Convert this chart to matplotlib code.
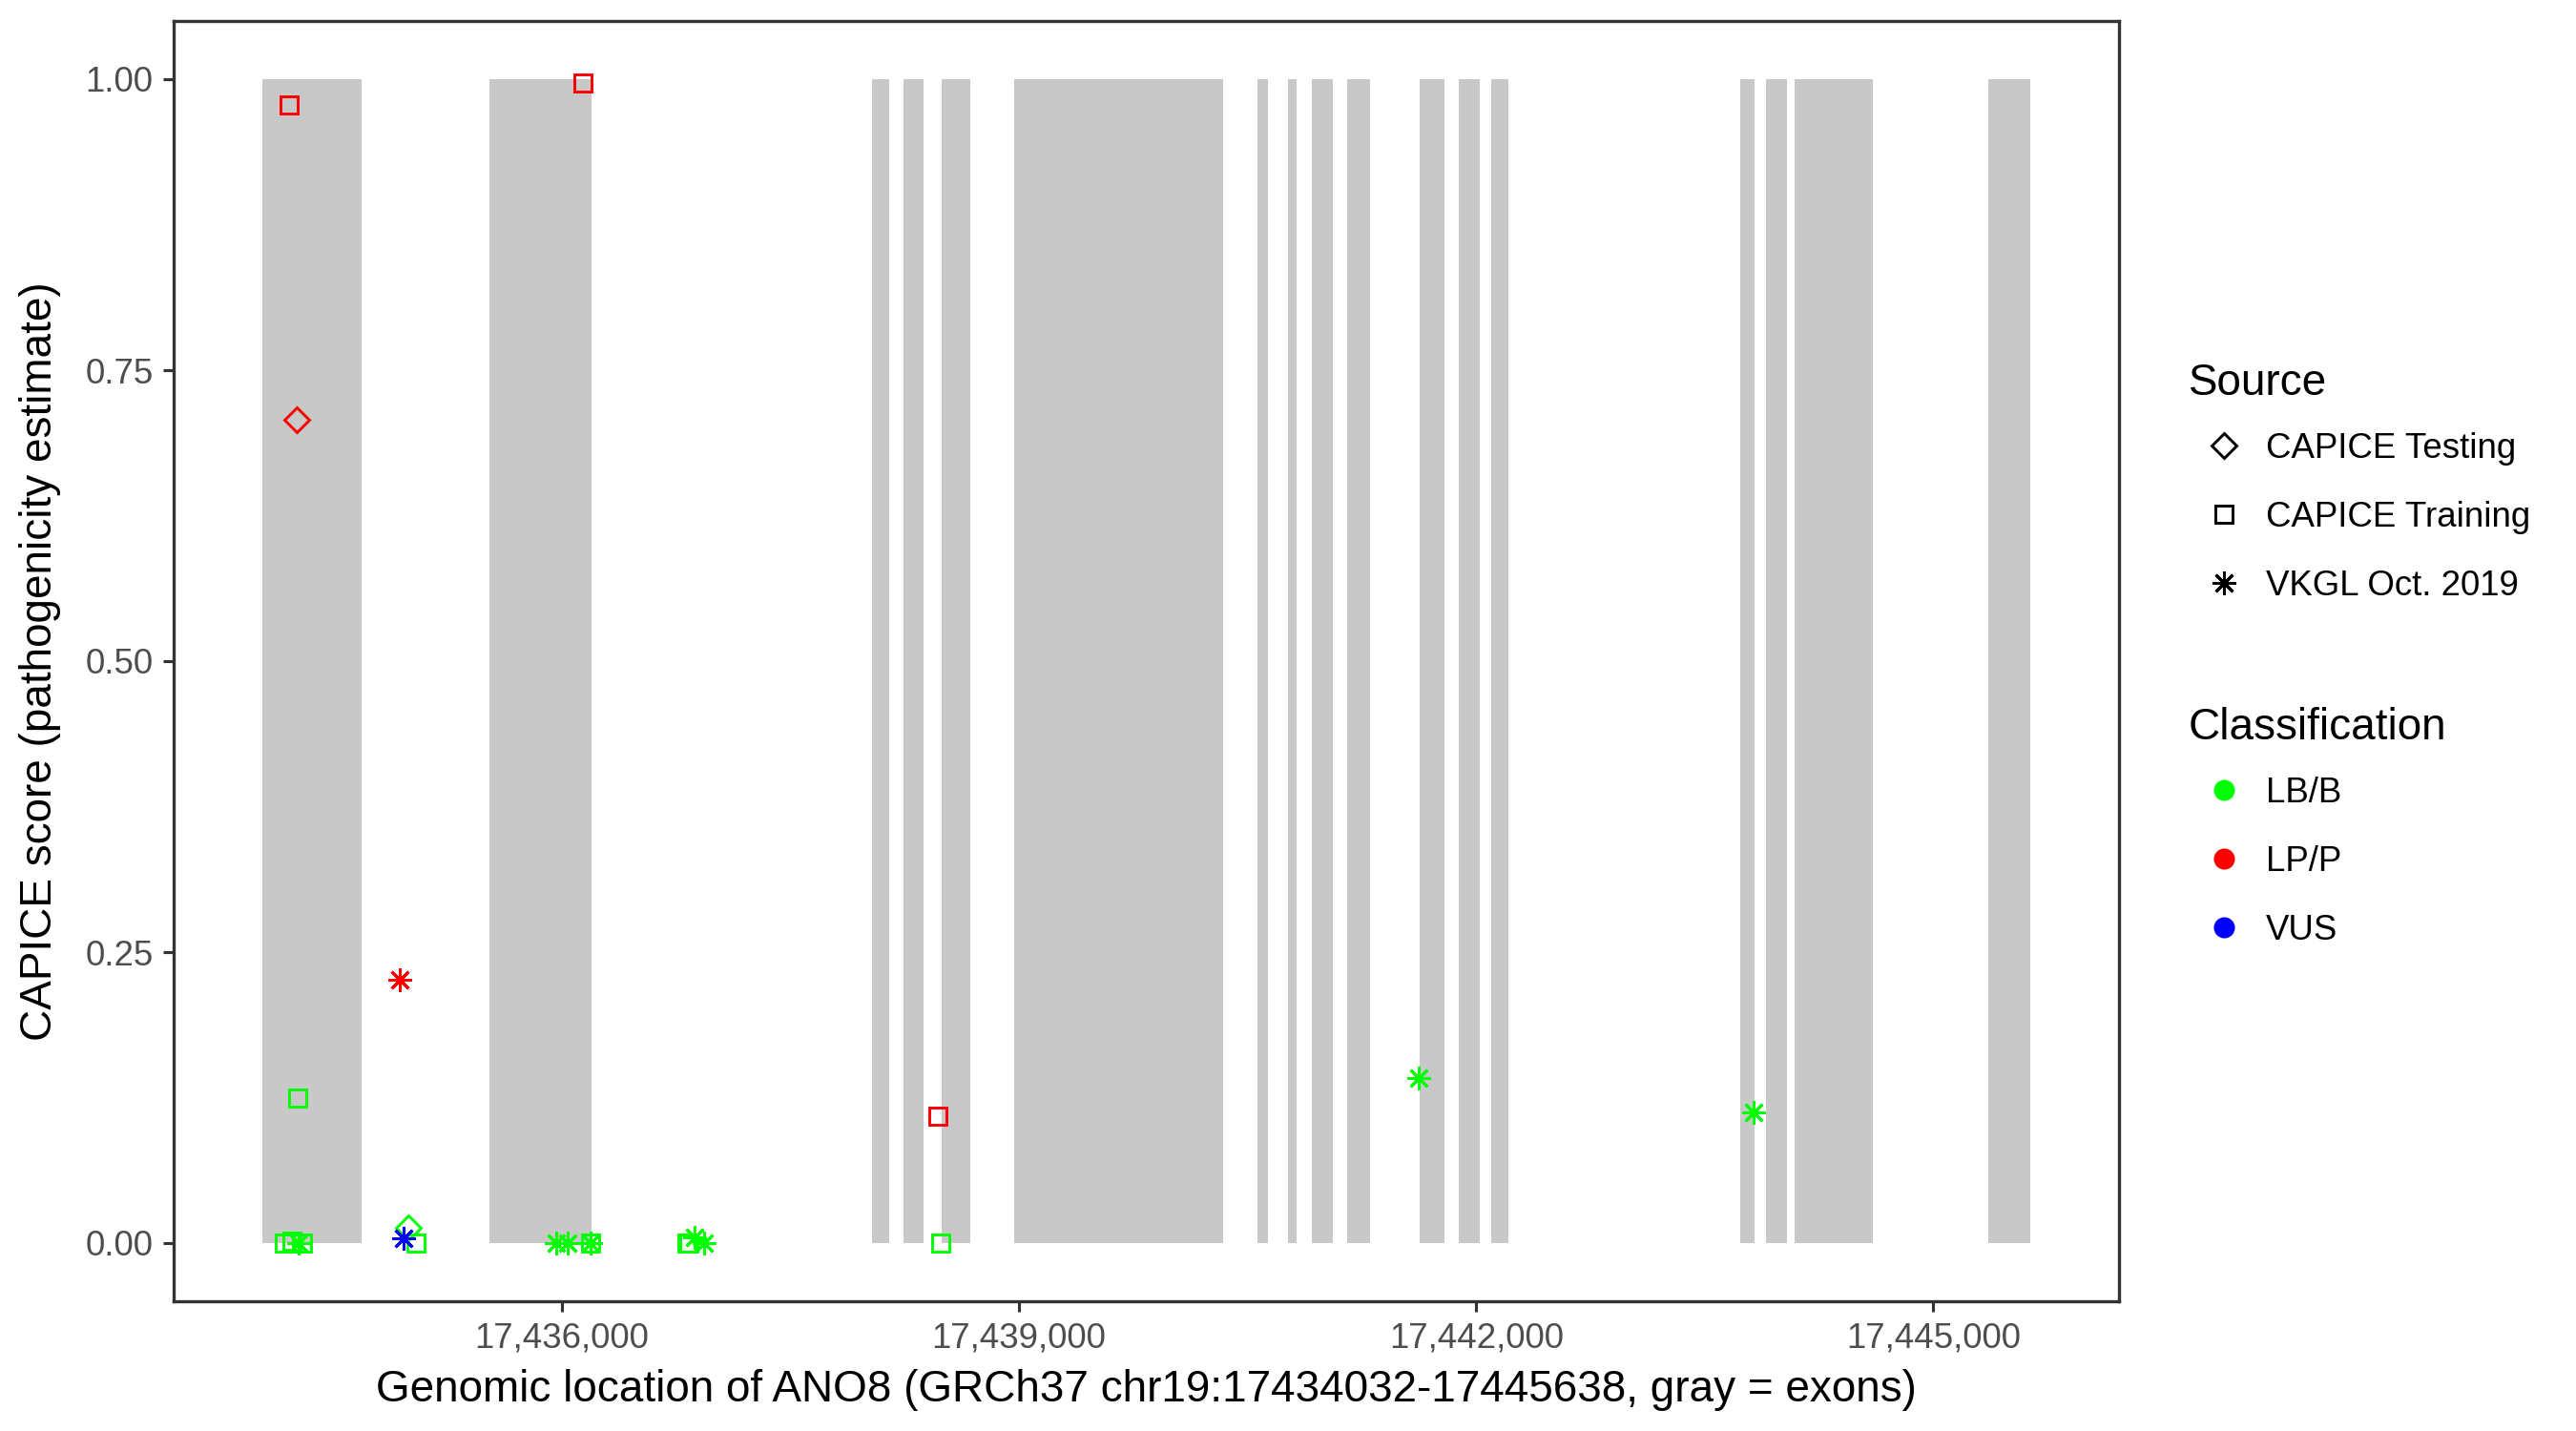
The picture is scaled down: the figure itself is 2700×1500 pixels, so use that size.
import matplotlib
matplotlib.use("Agg")
import matplotlib.pyplot as plt
from matplotlib.lines import Line2D
from matplotlib.ticker import FuncFormatter, FixedLocator

plt.rcParams['font.family'] = ['Liberation Sans', 'DejaVu Sans']

# ---- data ----
gene_start = 17434032
gene_end = 17445638

exon_starts = [17434032, 17435525, 17438036, 17438244, 17438492, 17438969,
               17440566, 17440762, 17440923, 17441156, 17441631, 17441887,
               17442100, 17443731, 17443903, 17444087, 17445362]
exon_ends = [17434687, 17436194, 17438150, 17438373, 17438679, 17440342,
             17440631, 17440819, 17441056, 17441306, 17441794, 17442022,
             17442212, 17443825, 17444037, 17444600, 17445638]

var_pos = [17434261, 17434989,
           17434208, 17436137, 17434265, 17438469, 17438483, 17435042,
           17434177, 17434225, 17434295, 17436190, 17436819, 17436835,
           17434938, 17434962, 17434273, 17435961, 17436037, 17436190,
           17436870, 17436931, 17441625, 17443821]
var_score = [0.707, 0.013,
             0.978, 0.997, 0.125, 0.109, 0.0, 0.0,
             0.0, 0.002, 0.0, 0.0, 0.0, 0.0,
             0.226, 0.004, 0.0, 0.0, 0.0, 0.0,
             0.005, 0.0, 0.142, 0.112]
var_source = ["CAPICE Testing", "CAPICE Testing",
              "CAPICE Training", "CAPICE Training", "CAPICE Training", "CAPICE Training",
              "CAPICE Training", "CAPICE Training", "CAPICE Training", "CAPICE Training",
              "CAPICE Training", "CAPICE Training", "CAPICE Training", "CAPICE Training",
              "VKGL Oct. 2019", "VKGL Oct. 2019", "VKGL Oct. 2019", "VKGL Oct. 2019",
              "VKGL Oct. 2019", "VKGL Oct. 2019", "VKGL Oct. 2019", "VKGL Oct. 2019",
              "VKGL Oct. 2019", "VKGL Oct. 2019"]
var_class = ["LP/P", "LB/B",
             "LP/P", "LP/P", "LB/B", "LP/P", "LB/B", "LB/B",
             "LB/B", "LB/B", "LB/B", "LB/B", "LB/B", "LB/B",
             "LP/P", "VUS", "LB/B", "LB/B", "LB/B", "LB/B",
             "LB/B", "LB/B", "LB/B", "LB/B"]

source_levels = ["CAPICE Testing", "CAPICE Training", "VKGL Oct. 2019"]
class_levels = ["LB/B", "LP/P", "VUS"]
x_ticks = [17436000, 17439000, 17442000, 17445000]
y_ticks = [0.0, 0.25, 0.5, 0.75, 1.0]

# ---- styles ----
source_marker = {"CAPICE Testing": "D", "CAPICE Training": "s", "VKGL Oct. 2019": (8, 2, 0)}
source_size = {"CAPICE Testing": 4.3, "CAPICE Training": 4.3, "VKGL Oct. 2019": 6.0}
class_color = {"LB/B": "#00FF00", "LP/P": "#FF0000", "VUS": "#0000FF"}

W, H = 2700, 1500
fig = plt.figure(figsize=(9, 5), dpi=300)
ax = fig.add_axes([182 / W, 1 - 1364 / H, (2221 - 182) / W, (1364 - 22) / H])

for s, e in zip(exon_starts, exon_ends):
    ax.fill_between([s, e], [0, 0], [1, 1], color="#C8C8C8", lw=0)

for x, y, src, cl in zip(var_pos, var_score, var_source, var_class):
    ax.plot([x], [y], linestyle="none", marker=source_marker[src],
            markersize=source_size[src], markerfacecolor="none",
            markeredgecolor=class_color[cl], markeredgewidth=0.7,
            color=class_color[cl])

rng = gene_end - gene_start
ax.set_xlim(gene_start - 0.05 * rng, gene_end + 0.05 * rng)
ax.set_ylim(-0.05, 1.05)
ax.xaxis.set_major_locator(FixedLocator(x_ticks))
ax.yaxis.set_major_locator(FixedLocator(y_ticks))
ax.xaxis.set_major_formatter(FuncFormatter(lambda v, p: f"{int(round(v)):,}"))
ax.yaxis.set_major_formatter(FuncFormatter(lambda v, p: f"{v:.2f}"))
ax.tick_params(axis="both", which="major", length=2.75, width=0.75, color="#333333",
               labelsize=8.8, labelcolor="#4D4D4D", pad=2.4)
for sp in ax.spines.values():
    sp.set_color("#333333")
    sp.set_linewidth(0.8)

ax.set_xlabel("Genomic location of ANO8 (GRCh37 chr19:17434032-17445638, gray = exons)",
              fontsize=11, color="black", labelpad=3.5)
ax.set_ylabel("CAPICE score (pathogenicity estimate)", fontsize=11, color="black", labelpad=6)

# ---- legends ----
src_handles = [Line2D([], [], linestyle="none", marker=source_marker[s],
                      markersize=source_size[s], markerfacecolor="none",
                      markeredgecolor="black", markeredgewidth=0.7) for s in source_levels]
cls_handles = [Line2D([], [], linestyle="none", marker="o", markersize=4.3,
                      markerfacecolor=class_color[c], markeredgecolor=class_color[c]) for c in class_levels]

leg_kw = dict(frameon=False, fontsize=8.8, title_fontsize=11, alignment="left",
              handlelength=2.0, handletextpad=0.2, labelspacing=1.01,
              borderaxespad=0, borderpad=0)
leg1 = fig.legend(src_handles, source_levels, title="Source", loc="upper left",
                  bbox_to_anchor=(2294 / W, 1 - 380 / H), **leg_kw)
leg2 = fig.legend(cls_handles, class_levels, title="Classification", loc="upper left",
                  bbox_to_anchor=(2294 / W, 1 - 741 / H), **leg_kw)
for lg in (leg1, leg2):
    lg._legend_box.sep = 7

fig.savefig("out.png", dpi=300)
